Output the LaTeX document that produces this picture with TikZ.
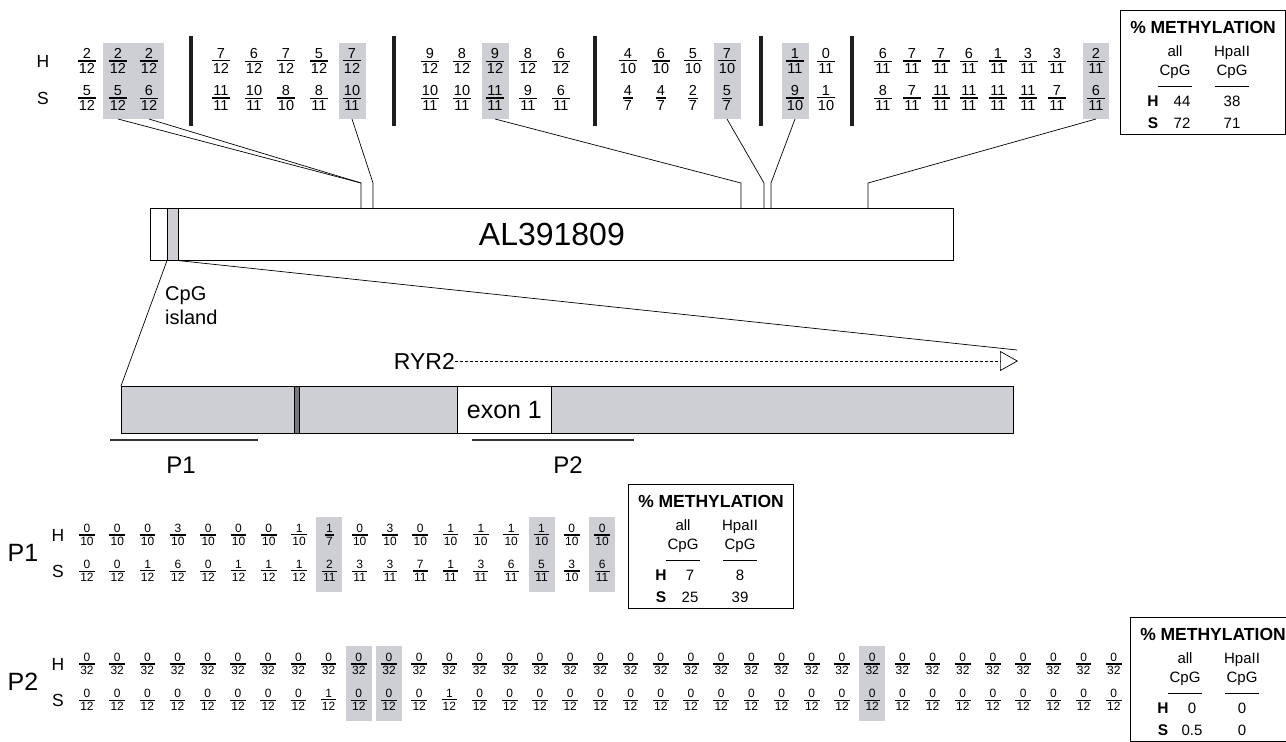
\documentclass[tikz,border=0pt]{standalone}
\usepackage{fontspec}
\setmainfont{Liberation Sans}
\usetikzlibrary{arrows.meta}

\definecolor{islandgray}{RGB}{205,207,212}
\definecolor{markgray}{RGB}{118,120,126}
\definecolor{barblack}{RGB}{30,30,30}

% numerator over a rule over denominator
\newcommand{\stackfrac}[2]{\vbox{\offinterlineskip
  \halign{\hfil\kern1.2pt##\kern1.2pt\hfil\cr #1\cr
    \noalign{\kern1.6pt\hrule height 1.1pt\kern1.6pt}#2\cr}}}

\begin{document}
\begin{tikzpicture}[x=1pt, y=-1pt,
    frac/.style={inner sep=0pt, font=\fontsize{14.5}{14.5}\selectfont},
    pfrac/.style={inner sep=0pt, font=\fontsize{12}{12}\selectfont},
    rowlab/.style={inner sep=0pt, font=\fontsize{17.5}{17.5}\selectfont},
    biglab/.style={inner sep=0pt, font=\fontsize{24}{24}\selectfont},
    sepbar/.style={line width=4pt, draw=barblack},
    link/.style={line width=0.7pt},
    pline/.style={line width=2pt, draw=black!80},
    methbox/.style={draw, line width=0.8pt, fill=white, minimum width=165pt,
                    minimum height=124pt, inner sep=0pt, anchor=north west},
    mtitle/.style={inner sep=0pt, font=\fontsize{17.5}{17.5}\selectfont\bfseries},
    mbold/.style={inner sep=0pt, text height=11pt, text depth=3pt,
                  font=\fontsize{15.5}{15.5}\selectfont\bfseries},
    mtext/.style={inner sep=0pt, text height=11pt, text depth=3pt,
                  font=\fontsize{15}{15}\selectfont}
]
\useasboundingbox (0,0) rectangle (1286,742);
\clip (0,0) rectangle (1286,742);

% ---- top rows: fractions along AL391809 ----
\def\yH{61}  \def\yS{98}
\foreach \xa/\xb in {103/164, 339/366, 482/509, 714/741, 782/809, 1083/1109}
  \fill[islandgray] (\xa,43) rectangle (\xb,119);
\foreach \x in {191, 394, 595, 761, 852}
  \draw[sepbar] (\x,36) -- (\x,126);
\node[rowlab] (tH) at (43,\yH) {H};
\node[rowlab] (tS) at (43,\yS) {S};
\foreach \x/\hn/\hd/\sn/\sd [count=\i] in {
    87/2/12/5/12, 118/2/12/5/12, 149/2/12/6/12,
    221/7/12/11/11, 254/6/12/10/11, 286/7/12/8/10, 319/5/12/8/11, 352/7/12/10/11,
    430/9/12/10/11, 462/8/12/10/11, 495/9/12/11/11, 528/8/12/9/11, 561/6/12/6/11,
    628/4/10/4/7, 661/6/10/4/7, 693/5/10/2/7, 727/7/10/5/7,
    795/1/11/9/10, 826/0/11/1/10,
    883/6/11/8/11, 912/7/11/7/11, 941/7/11/11/11, 969/6/11/11/11,
    998/1/11/11/11, 1028/3/11/11/11, 1057/3/11/7/11, 1096/2/11/6/11}
{
  \node[frac] (th\i) at (\x,\yH) {\stackfrac{\hn}{\hd}};
  \node[frac] (ts\i) at (\x,\yS) {\stackfrac{\sn}{\sd}};
}

% ---- AL391809 clone ----
\node[draw, line width=0.8pt, minimum width=803pt, minimum height=52pt, inner sep=0pt,
      anchor=north west, font=\fontsize{32}{32}\selectfont] (al) at (150,208) {AL391809};
\node[draw, line width=0.6pt, fill=islandgray, minimum width=11pt, minimum height=52pt,
      inner sep=0pt, anchor=north west] (isl) at (167,208) {};

% links from shaded sites down to the clone
\coordinate (rb) at (0,119);
\coordinate (k1) at (361,183);
\coordinate (k2) at (373,183);
\coordinate (k3) at (741,183);
\coordinate (k4) at (764,183);
\coordinate (k5) at (771,183);
\coordinate (k6) at (868,183);
\draw[link] (ts2 |- rb) -- (k1);
\draw[link] (ts3 |- rb) -- (k1) -- (k1 |- al.north);
\draw[link] (ts8 |- rb) -- (k2) -- (k2 |- al.north);
\draw[link] (ts11 |- rb) -- (k3) -- (k3 |- al.north);
\draw[link] (ts17 |- rb) -- (k4) -- (k4 |- al.north);
\draw[link] (ts18 |- rb) -- (k5) -- (k5 |- al.north);
\draw[link] (ts27 |- rb) -- (k6) -- (k6 |- al.north);

% ---- CpG island enlarged ----
\node[inner sep=0pt, anchor=north west, align=left,
      font=\fontsize{20}{24}\selectfont] (cpg) at (165,286) {CpG\\island};
\node[draw, line width=0.8pt, fill=islandgray, minimum width=892pt, minimum height=47pt,
      inner sep=0pt, anchor=north west] (gene) at (121,386) {};
\node[draw, line width=0.6pt, fill=markgray, minimum width=5pt, minimum height=47pt,
      inner sep=0pt, anchor=north west] (mark) at (294,386) {};
\node[draw, line width=0.8pt, fill=white, minimum width=94pt, minimum height=47pt,
      inner sep=0pt, anchor=north west, font=\fontsize{25}{25}\selectfont] (exon) at (457,386) {exon 1};
\coordinate (zoomend) at (1017,350);
\draw[link] (isl.south west) -- (gene.north west);
\draw[link] (isl.south east) -- (zoomend);

\node[inner sep=0pt, anchor=east, font=\fontsize{23}{23}\selectfont] (ryr) at (455,361) {RYR2};
\coordinate (rtip) at (1018,361);
\draw[link, dash pattern=on 3pt off 2pt, -{Triangle[open, length=18pt, width=20pt]}]
  (ryr.east) -- (rtip);

% amplicons
\coordinate (p1a) at (110,440);
\coordinate (p1b) at (258,440);
\coordinate (p2a) at (472,440);
\coordinate (p2b) at (634,440);
\draw[pline] (p1a) -- (p1b);
\draw[pline] (p2a) -- (p2b);
\node[biglab] (p1lab) at (181,465) {P1};
\node[biglab] (p2lab) at (568,465) {P2};

% ---- P1 fractions ----
\node[biglab, font=\fontsize{25}{25}\selectfont] (P1) at (23,553) {P1};
\node[rowlab] (p1H) at (58,535) {H};
\node[rowlab] (p1S) at (58,571) {S};
\foreach \i in {8,15,17}
  \fill[islandgray] ({87+30.3*\i-13},517) rectangle ({87+30.3*\i+13},592);
\foreach \hn/\hd/\sn/\sd [count=\i from 0] in {
    0/10/0/12, 0/10/0/12, 0/10/1/12, 3/10/6/12, 0/10/0/12, 0/10/1/12,
    0/10/1/12, 1/10/1/12, 1/7/2/11, 0/10/3/11, 3/10/3/11, 0/10/7/11,
    1/10/1/11, 1/10/3/11, 1/10/6/11, 1/10/5/11, 0/10/3/10, 0/10/6/11}
{
  \node[pfrac] (p1h\i) at ({87+30.3*\i},535) {\stackfrac{\hn}{\hd}};
  \node[pfrac] (p1s\i) at ({87+30.3*\i},571) {\stackfrac{\sn}{\sd}};
}

% ---- P2 fractions ----
\node[biglab, font=\fontsize{25}{25}\selectfont] (P2) at (23,682) {P2};
\node[rowlab] (p2H) at (58,664) {H};
\node[rowlab] (p2S) at (58,700) {S};
\foreach \i in {9,10,26}
  \fill[islandgray] ({87+30.2*\i-13},646) rectangle ({87+30.2*\i+13},721);
\foreach \i in {0,...,34}
{
  \pgfmathtruncatemacro{\sn}{or(\i==8,\i==12)}
  \node[pfrac] (p2h\i) at ({87+30.2*\i},664) {\stackfrac{0}{32}};
  \node[pfrac] (p2s\i) at ({87+30.2*\i},700) {\stackfrac{\sn}{12}};
}

% ---- % methylation boxes ----
\foreach \bx/\by/\nm/\hA/\hB/\sA/\sB in {1120/10/mtop/44/38/72/71,
    628/484/mone/7/8/25/39, 1130/617/mtwo/0/0/0.5/0}
{
  \node[methbox] (\nm) at (\bx,\by) {};
  \node[mtitle] (\nm-t) at ({\bx+83},{\by+17}) {\% METHYLATION};
  \node[mtext] (\nm-a) at ({\bx+55},{\by+42}) {all};
  \node[mtext] (\nm-b) at ({\bx+112},{\by+42}) {HpaII};
  \node[mtext] (\nm-c) at ({\bx+55},{\by+61}) {CpG};
  \node[mtext] (\nm-d) at ({\bx+112},{\by+61}) {CpG};
  \draw[line width=0.8pt] ({\bx+38},{\by+76}) -- ({\bx+72},{\by+76});
  \draw[line width=0.8pt] ({\bx+95},{\by+76}) -- ({\bx+129},{\by+76});
  \node[mbold] (\nm-H) at ({\bx+33},{\by+92}) {H};
  \node[mtext] (\nm-h1) at ({\bx+62},{\by+92}) {\hA};
  \node[mtext] (\nm-h2) at ({\bx+112},{\by+92}) {\hB};
  \node[mbold] (\nm-S) at ({\bx+33},{\by+114}) {S};
  \node[mtext] (\nm-s1) at ({\bx+62},{\by+114}) {\sA};
  \node[mtext] (\nm-s2) at ({\bx+112},{\by+114}) {\sB};
}
\end{tikzpicture}
\end{document}
